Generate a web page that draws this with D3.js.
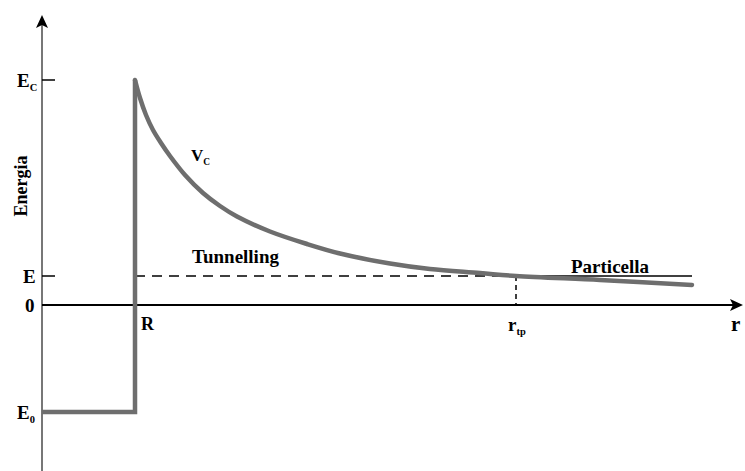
<!DOCTYPE html>
<html>
<head>
<meta charset="utf-8">
<script src="https://cdn.jsdelivr.net/npm/d3@7"></script>
<style>
  body { margin: 0; background: #fff; }
  text { font-family: "Liberation Serif", "Times New Roman", serif; font-weight: bold; }
</style>
</head>
<body>
<div id="chart"></div>
<script>
// radius values (arbitrary units) and Coulomb potential
var curveR = [0.93, 0.98, 1.04, 1.11, 1.19, 1.28, 1.43, 1.61, 1.78, 1.95, 2.28, 2.65, 2.98, 3.48, 3.88, 4.38, 4.74, 5.58, 6.50];
var curveV = [2.25, 2.07, 1.90, 1.75, 1.62, 1.49, 1.30, 1.12, 0.99, 0.885, 0.735, 0.61, 0.515, 0.415, 0.36, 0.32, 0.29, 0.25, 0.20];

// energy levels
var levelNames = ["EC", "E", "0", "E0"];
var levelValues = [2.25, 0.29, 0, -1.07];

// radius marks
var R = 0.93, rTp = 4.74, rEnd = 6.50;

var width = 745, height = 471;

var svg = d3.select("#chart").append("svg")
    .attr("width", width).attr("height", height);

var x = d3.scaleLinear().domain([0, 7.03]).range([42, 745]);
var y = d3.scaleLinear().domain([-1.66, 2.90]).range([471, 15]);

var EC = levelValues[0], E = levelValues[1], E0 = levelValues[3];

// y axis (grey) with arrow
svg.append("line")
    .attr("x1", x(0)).attr("x2", x(0))
    .attr("y1", y(-1.66)).attr("y2", y(2.80))
    .attr("stroke", "#777").attr("stroke-width", 2);
svg.append("path")
    .attr("d", "M" + x(0) + "," + y(2.90) + " l-6,13 l6,-3 l6,3 z")
    .attr("fill", "#000");

// x axis (black) with arrow
svg.append("line")
    .attr("x1", x(0)).attr("x2", x(6.95))
    .attr("y1", y(0)).attr("y2", y(0))
    .attr("stroke", "#000").attr("stroke-width", 1.8);
svg.append("path")
    .attr("d", "M" + x(7.01) + "," + y(0) + " l-13,-6 l3,6 l-3,6 z")
    .attr("fill", "#000");

// ticks on the y axis
[EC, E].forEach(function(v) {
  svg.append("line")
      .attr("x1", x(0)).attr("x2", x(0.13))
      .attr("y1", y(v)).attr("y2", y(v))
      .attr("stroke", "#000").attr("stroke-width", 1.5);
});

// E level: dashed up to r_tp, solid after
svg.append("line")
    .attr("x1", x(R)).attr("x2", x(rTp))
    .attr("y1", y(E)).attr("y2", y(E))
    .attr("stroke", "#000").attr("stroke-width", 1.5)
    .attr("stroke-dasharray", "10,7");
svg.append("line")
    .attr("x1", x(rTp)).attr("x2", x(rEnd))
    .attr("y1", y(E)).attr("y2", y(E))
    .attr("stroke", "#000").attr("stroke-width", 1.5);
svg.append("line")
    .attr("x1", x(rTp)).attr("x2", x(rTp))
    .attr("y1", y(E)).attr("y2", y(0))
    .attr("stroke", "#000").attr("stroke-width", 1.5)
    .attr("stroke-dasharray", "5,4");

// potential well and barrier
var well = [[0, E0], [R, E0], [R, EC]];
svg.append("path")
    .attr("d", d3.line().x(function(d) { return x(d[0]); }).y(function(d) { return y(d[1]); })(well))
    .attr("fill", "none").attr("stroke", "#6e6e6e").attr("stroke-width", 4.5)
    .attr("stroke-linejoin", "miter");

var pts = curveR.map(function(r, i) { return [r, curveV[i]]; });
svg.append("path")
    .attr("d", d3.line().curve(d3.curveCatmullRom.alpha(0.5))
      .x(function(d) { return x(d[0]); }).y(function(d) { return y(d[1]); })(pts))
    .attr("fill", "none").attr("stroke", "#6e6e6e").attr("stroke-width", 4.5)
    .attr("stroke-linecap", "round");

// labels with subscripts
function label(main, sub, px, py, size) {
  var t = svg.append("text").attr("x", px).attr("y", py).attr("font-size", size).attr("fill", "#000");
  t.append("tspan").text(main);
  if (sub) t.append("tspan").attr("dy", 4).attr("font-size", size * 0.55).text(sub);
  return t;
}

label("E", "C", 17, y(EC) + 7, 19);
label("E", null, 23, y(E) + 7, 19);
label("0", null, 25, y(0) + 7, 19);
label("E", "0", 17, y(E0) + 7, 19);
label("V", "C", 191, 161, 17);
label("Tunnelling", null, 192, 263, 19);
label("Particella", null, 571, 273, 19);
label("R", null, x(R) + 6, 330, 18);
label("r", "tp", x(rTp) - 8, 331, 19);
label("r", null, 731, 331, 21);

svg.append("text")
    .attr("transform", "translate(27,186) rotate(-90)")
    .attr("text-anchor", "middle")
    .attr("font-size", 18)
    .text("Energia");
</script>
</body>
</html>
